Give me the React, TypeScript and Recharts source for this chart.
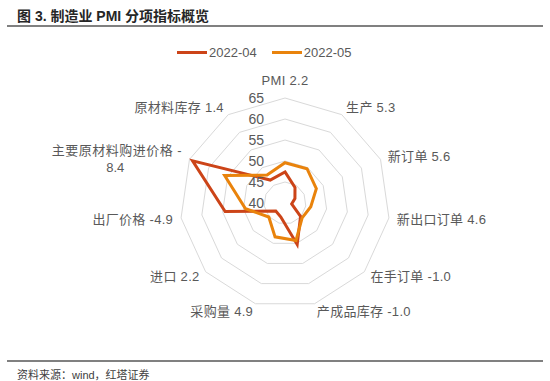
import React from 'react';
import {
  RadarChart,
  Radar,
  PolarGrid,
  PolarAngleAxis,
  PolarRadiusAxis,
} from 'recharts';

const categories = [
  'PMI 2.2',
  '生产 5.3',
  '新订单 5.6',
  '新出口订单 4.6',
  '在手订单 -1.0',
  '产成品库存 -1.0',
  '采购量 4.9',
  '进口 2.2',
  '出厂价格 -4.9',
  '主要原材料购进价格 -8.4',
  '原材料库存 1.4',
];

const apr2022 = [47.4, 44.4, 42.6, 41.6, 44.9, 50.3, 43.5, 42.9, 54.4, 64.2, 46.5];
const may2022 = [49.6, 49.7, 48.2, 46.2, 45.4, 49.3, 48.4, 45.1, 49.5, 55.8, 47.9];

const seriesNames = ['2022-04', '2022-05'];
const radialDomain = [40, 65];

const data = categories.map((name, i) => ({
  name,
  apr: apr2022[i],
  may: may2022[i],
}));

const W = 550;
const H = 381;
const CX = 285;
const CY = 203;
const R = 105;
const RED = '#CC4418';
const ORANGE = '#E9830C';
const TEXT = '#595959';
const FONT = '"Liberation Sans", Arial, "Noto Sans CJK SC", sans-serif';

const AngleTick = (props: any) => {
  const idx = categories.indexOf(props.payload.value);
  const n = categories.length;
  const a = (idx * 2 * Math.PI) / n;
  const x = CX + (R + 8) * Math.sin(a);
  let y = CY - (R + 8) * Math.cos(a);
  const label: string = props.payload.value;
  let anchor: 'start' | 'middle' | 'end' = 'middle';
  if (idx === 0) {
    y -= 10;
  } else if (idx <= 5) {
    anchor = 'start';
  } else {
    anchor = 'end';
  }
  // long label wraps like the original
  if (label.startsWith('主要原材料购进价格')) {
    const line1 = '主要原材料购进价格 -';
    const line2 = '8.4';
    return (
      <g>
        <text x={x} y={y - 6} textAnchor="end" dominantBaseline="central" fill={TEXT} fontSize={13} fontFamily={FONT} letterSpacing={0.5}>
          {line1}
        </text>
        <text x={x - 67} y={y + 11} textAnchor="middle" dominantBaseline="central" fill={TEXT} fontSize={13} fontFamily={FONT}>
          {line2}
        </text>
      </g>
    );
  }
  return (
    <text x={x} y={y} textAnchor={anchor} dominantBaseline="central" fill={TEXT} fontSize={13} fontFamily={FONT} letterSpacing={0.3}>
      {label}
    </text>
  );
};

const RadiusTick = (props: any) => {
  return (
    <text x={props.x - 21} y={props.y} textAnchor="end" dominantBaseline="central" fill={TEXT} fontSize={14} fontFamily={FONT}>
      {props.payload.value}
    </text>
  );
};

const App: React.FC = () => {
  return (
    <div style={{ position: 'absolute', left: 0, top: 0, width: W, height: H, background: '#fff', fontFamily: FONT }}>
      <div style={{ position: 'absolute', left: 17, top: 5, fontSize: 14, fontWeight: 'bold', color: '#262626', whiteSpace: 'nowrap' }}>
        图 3. 制造业 PMI 分项指标概览
      </div>
      <div style={{ position: 'absolute', left: 7, top: 25, width: 536, height: 1.5, background: '#808080' }} />

      <div style={{ position: 'absolute', left: 177, top: 45, display: 'flex', alignItems: 'center', fontSize: 13, color: TEXT }}>
        <span style={{ display: 'inline-block', width: 30, height: 3, background: RED, marginRight: 2 }} />
        <span>{seriesNames[0]}</span>
        <span style={{ display: 'inline-block', width: 30, height: 3, background: ORANGE, marginLeft: 15, marginRight: 2 }} />
        <span>{seriesNames[1]}</span>
      </div>

      <div style={{ position: 'absolute', left: 0, top: 0 }}>
        <RadarChart width={W} height={H} data={data} cx={CX} cy={CY} outerRadius={R} startAngle={90} endAngle={-270}>
          <PolarGrid gridType="polygon" radialLines={false} stroke="#d9d9d9" strokeWidth={1} />
          <PolarAngleAxis dataKey="name" tick={AngleTick} tickLine={false} axisLine={false} />
          <PolarRadiusAxis
            angle={90}
            domain={radialDomain}
            tickCount={6}
            axisLine={false}
            tickLine={false}
            tick={RadiusTick}
          />
          <Radar
            name={seriesNames[0]}
            dataKey="apr"
            stroke={RED}
            strokeWidth={3}
            fill="none"
            fillOpacity={0}
            dot={false}
            isAnimationActive={false}
          />
          <Radar
            name={seriesNames[1]}
            dataKey="may"
            stroke={ORANGE}
            strokeWidth={3}
            fill="none"
            fillOpacity={0}
            dot={false}
            isAnimationActive={false}
          />
        </RadarChart>
      </div>

      <div style={{ position: 'absolute', left: 7, top: 360, width: 536, height: 1.5, background: '#808080' }} />
      <div style={{ position: 'absolute', left: 17, top: 366, fontSize: 11, color: '#404040', whiteSpace: 'nowrap' }}>
        资料来源：wind，红塔证券
      </div>
    </div>
  );
};

export default App;
